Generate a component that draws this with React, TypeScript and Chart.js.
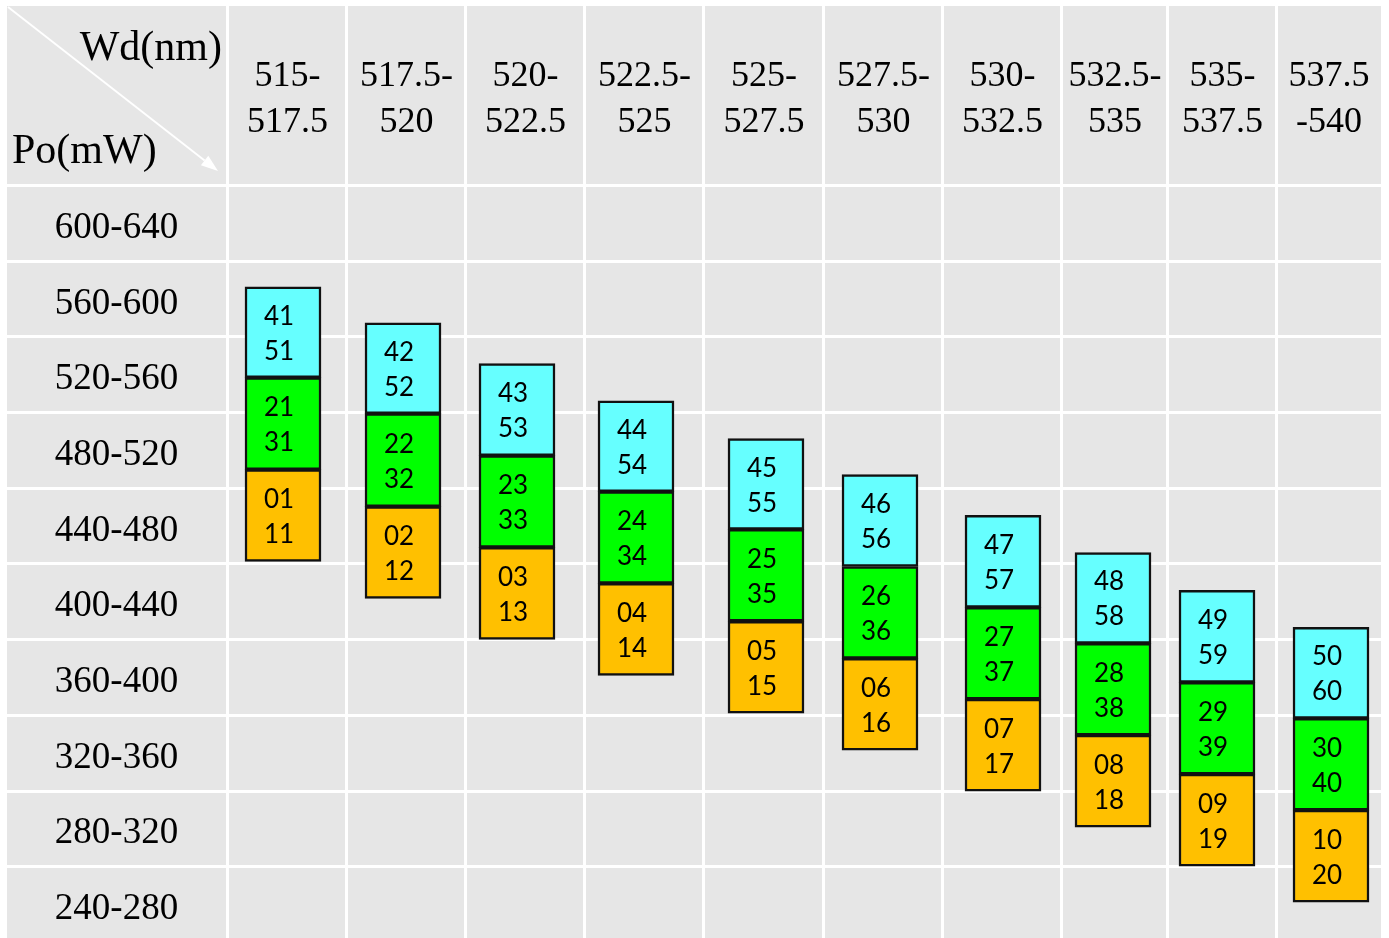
import { useEffect, useRef } from "react";
import { Chart, registerables } from "chart.js";

Chart.register(...registerables);

// ---- data ----
const WAVELENGTH_BINS: string[][] = [
  ["515-", "517.5"],
  ["517.5-", "520"],
  ["520-", "522.5"],
  ["522.5-", "525"],
  ["525-", "527.5"],
  ["527.5-", "530"],
  ["530-", "532.5"],
  ["532.5-", "535"],
  ["535-", "537.5"],
  ["537.5", "-540"],
];
const POWER_BINS = [
  "600-640", "560-600", "520-560", "480-520", "440-480",
  "400-440", "360-400", "320-360", "280-320", "240-280",
];
const POWER_EDGES = [640, 600, 560, 520, 480, 440, 400, 360, 320, 280, 240];

// floating ranges in mW for each wavelength bin
const CYAN_RANGES: number[][] = [
  [538.7, 586.7], [519.7, 567.7], [497.5, 546.1], [478.5, 526.5], [458.5, 506.5],
  [438.9, 487.5], [417.3, 465.9], [398.3, 446.3], [377.7, 426.3], [358.7, 406.8],
];
const GREEN_RANGES: number[][] = [
  [490.1, 538.7], [470.6, 519.7], [449.0, 497.5], [430.0, 478.5], [410.0, 458.5],
  [390.4, 438.9], [368.8, 417.3], [349.8, 398.3], [329.2, 377.7], [310.2, 358.7],
];
const ORANGE_RANGES: number[][] = [
  [441.6, 490.1], [422.1, 470.6], [400.4, 449.0], [381.4, 430.0], [361.4, 410.0],
  [341.8, 390.4], [320.2, 368.8], [301.2, 349.8], [280.6, 329.2], [261.6, 310.2],
];

const CYAN_CODES_A = ["41", "42", "43", "44", "45", "46", "47", "48", "49", "50"];
const CYAN_CODES_B = ["51", "52", "53", "54", "55", "56", "57", "58", "59", "60"];
const GREEN_CODES_A = ["21", "22", "23", "24", "25", "26", "27", "28", "29", "30"];
const GREEN_CODES_B = ["31", "32", "33", "34", "35", "36", "37", "38", "39", "40"];
const ORANGE_CODES_A = ["01", "02", "03", "04", "05", "06", "07", "08", "09", "10"];
const ORANGE_CODES_B = ["11", "12", "13", "14", "15", "16", "17", "18", "19", "20"];

// ---- layout (relative column widths of the table, and box shift inside a cell) ----
const COLUMN_WIDTHS = [119, 119, 119, 119, 120, 119, 119, 106, 109, 104];
const BOX_SHIFT = [-4.5, -3.5, -8.5, -8.5, 2, -3.5, 0.5, -2, -5.5, 2];
const COLUMN_EDGES = COLUMN_WIDTHS.reduce<number[]>(
  (acc, w) => { acc.push(acc[acc.length - 1] + w); return acc; },
  [0]
);
const BOX_CENTERS = COLUMN_WIDTHS.map((w, i) => COLUMN_EDGES[i] + w / 2 + BOX_SHIFT[i]);

const GRAY = "#e6e6e6";
const SERIF = "'Liberation Serif', 'Times New Roman', serif";
const SANS = "Lato, 'Open Sans', sans-serif";

const tablePlugin = {
  id: "tableGrid",
  beforeDraw(chart: any) {
    const { ctx, chartArea, scales } = chart;
    const xs = scales.x;
    const ys = scales.y;
    const left = 7;
    const top = 6;
    const bottom = chart.height;
    const right = chartArea.right;
    ctx.save();
    ctx.fillStyle = "#ffffff";
    ctx.fillRect(0, 0, chart.width, chart.height);
    ctx.fillStyle = GRAY;
    ctx.fillRect(left, top, right - left, bottom - top);
    ctx.fillStyle = "#ffffff";
    // vertical separators
    const vx = COLUMN_EDGES.slice(0, -1).map((v) => xs.getPixelForValue(v));
    vx.forEach((px: number) => ctx.fillRect(Math.round(px) - 2, top, 3, bottom - top));
    // horizontal separators
    const hy = POWER_EDGES.slice(0, -1).map((v) => ys.getPixelForValue(v));
    hy.forEach((py: number) => ctx.fillRect(left, Math.round(py) - 2, right - left, 3));

    // header texts
    ctx.fillStyle = "#000";
    ctx.textAlign = "center";
    ctx.textBaseline = "alphabetic";
    ctx.font = `36px ${SERIF}`;
    const headMid = (top + chartArea.top) / 2;
    WAVELENGTH_BINS.forEach((lines, i) => {
      const cx = xs.getPixelForValue(COLUMN_EDGES[i] + COLUMN_WIDTHS[i] / 2);
      ctx.fillText(lines[0], cx, headMid - 10);
      ctx.fillText(lines[1], cx, headMid + 36);
    });
    ctx.font = `37px ${SERIF}`;
    const colMid = (left + chartArea.left) / 2 - 1;
    POWER_BINS.forEach((lab, i) => {
      const cy = (ys.getPixelForValue(POWER_EDGES[i]) + ys.getPixelForValue(POWER_EDGES[i + 1])) / 2;
      ctx.fillText(lab, colMid, cy + 14);
    });

    // corner
    ctx.font = `42px ${SERIF}`;
    ctx.textAlign = "right";
    ctx.fillText("Wd(nm)", chartArea.left - 6, 60);
    ctx.textAlign = "left";
    ctx.fillText("Po(mW)", 12, 163);
    // diagonal arrow
    const x0 = 8, y0 = 7, x1 = 218, y1 = 171;
    const ang = Math.atan2(y1 - y0, x1 - x0);
    const headLen = 17, headW = 6;
    ctx.strokeStyle = "#ffffff";
    ctx.lineWidth = 2;
    ctx.beginPath();
    ctx.moveTo(x0, y0);
    ctx.lineTo(x1 - headLen * Math.cos(ang), y1 - headLen * Math.sin(ang));
    ctx.stroke();
    ctx.fillStyle = "#ffffff";
    ctx.beginPath();
    ctx.moveTo(x1, y1);
    const bx = x1 - headLen * Math.cos(ang);
    const by = y1 - headLen * Math.sin(ang);
    ctx.lineTo(bx + headW * Math.sin(ang), by - headW * Math.cos(ang));
    ctx.lineTo(bx - headW * Math.sin(ang), by + headW * Math.cos(ang));
    ctx.closePath();
    ctx.fill();
    ctx.restore();
  },
  afterDatasetsDraw(chart: any) {
    const { ctx } = chart;
    const codes = [
      [CYAN_CODES_A, CYAN_CODES_B],
      [GREEN_CODES_A, GREEN_CODES_B],
      [ORANGE_CODES_A, ORANGE_CODES_B],
    ];
    ctx.save();
    ctx.fillStyle = "#000";
    ctx.font = `26px ${SANS}`;
    ctx.textAlign = "center";
    ctx.textBaseline = "alphabetic";
    chart.data.datasets.forEach((_: any, di: number) => {
      const meta = chart.getDatasetMeta(di);
      meta.data.forEach((bar: any, i: number) => {
        const cy = (bar.y + bar.base) / 2;
        const cx = bar.x - 4;
        ctx.fillText(codes[di][0][i], cx, cy - 16.5 + 9);
        ctx.fillText(codes[di][1][i], cx, cy + 18.5 + 9);
      });
    });
    ctx.restore();
  },
};

export default function App() {
  const ref = useRef<HTMLCanvasElement | null>(null);

  useEffect(() => {
    document.body.style.margin = "0";
    const canvas = ref.current;
    if (!canvas) return;
    const mk = (ranges: number[][], color: string, label: string) => ({
      label,
      data: ranges.map((r, i) => ({ x: BOX_CENTERS[i], y: r })),
      backgroundColor: color,
      borderColor: "#111111",
      borderWidth: 2.5,
      borderSkipped: false,
      barThickness: 76,
      grouped: false,
    });
    const chart = new Chart(canvas, {
      type: "bar",
      data: {
        datasets: [
          mk(CYAN_RANGES, "#66ffff", "cyan"),
          mk(GREEN_RANGES, "#00ff00", "green"),
          mk(ORANGE_RANGES, "#ffc000", "orange"),
        ] as any,
      },
      options: {
        responsive: false,
        animation: false,
        layout: { padding: { left: 228, top: 186, right: 8, bottom: 0 } },
        plugins: { legend: { display: false }, tooltip: { enabled: false } },
        scales: {
          x: {
            type: "linear",
            display: false,
            min: 0,
            max: COLUMN_EDGES[COLUMN_EDGES.length - 1],
            offset: false,
          },
          y: {
            type: "linear",
            display: false,
            min: 242.6,
            max: 640,
          },
        },
      } as any,
      plugins: [tablePlugin],
    });
    return () => chart.destroy();
  }, []);

  return (
    <div style={{ width: 1389, height: 938, overflow: "hidden" }}>
      <canvas ref={ref} width={1389} height={938} style={{ display: "block" }} />
    </div>
  );
}
